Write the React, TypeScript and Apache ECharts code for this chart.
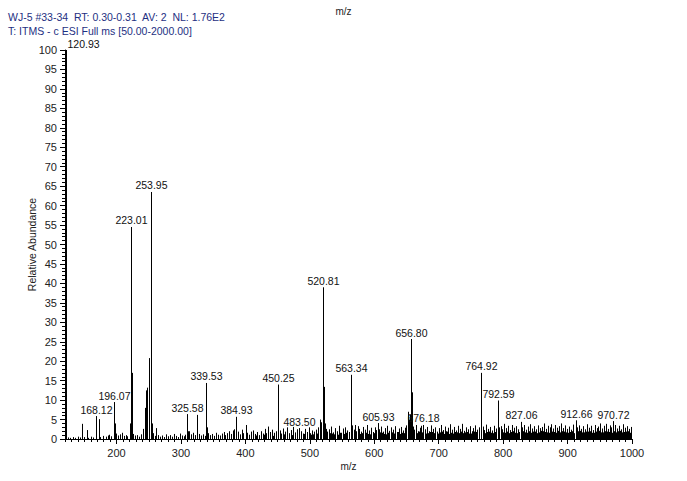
import React, { useEffect, useRef } from "react";
import * as echarts from "echarts";

// ---- data ----
const headerLine1 = "WJ-5 #33-34  RT: 0.30-0.31  AV: 2  NL: 1.76E2";
const headerLine2 = "T: ITMS - c ESI Full ms [50.00-2000.00]";
const X_MIN = 120;
const X_MAX = 1000;
const xMajorTicks = [200, 300, 400, 500, 600, 700, 800, 900, 1000];

// labelled peaks: [m/z, relative abundance]
const labelledPeaks: [number, number][] = [
  [120.93, 100], [168.12, 5.9], [196.07, 9.5], [223.01, 54.5], [253.95, 63.5],
  [325.58, 6.2], [339.53, 14.4], [384.93, 5.7], [450.25, 14.0], [483.5, 2.8],
  [520.81, 39.0], [563.34, 16.5], [605.93, 4.1], [656.8, 25.7], [676.18, 3.6],
  [764.92, 17.0], [792.59, 9.9], [827.06, 4.4], [912.66, 4.8], [970.72, 4.6],
];

// unlabelled larger peaks
const otherPeaks: [number, number][] = [
  [147, 3.9], [153.5, 2.3], [172, 5.1], [197.07, 4.0], [221, 4.0], [224.01, 17.0],
  [244.5, 8.0], [246.3, 12.5], [247.4, 13.2], [249.6, 20.8], [250.6, 6.0], [255, 4.0],
  [310, 6.4], [311.2, 2.0], [340.5, 3.0], [385.9, 2.6], [401, 3.6], [451.25, 5.0],
  [519.7, 5.2], [521.81, 13.4], [522.8, 4.0], [564.3, 3.4], [652, 7.0], [654, 5.0],
  [655.8, 6.2], [657.8, 12.0], [658.8, 4.0], [765.92, 7.0], [793.6, 3.0],
];

// baseline noise
const noiseLow: [number, number][] = [
  [125, 0.4], [128, 0.3], [132, 0.5], [136, 0.3], [140, 0.6], [143, 0.4], [150, 0.5],
  [156, 0.3], [160, 0.6], [163, 0.4], [175, 0.5], [179, 0.8], [183, 0.6], [186, 0.9],
  [189, 1.1], [192, 0.7], [199, 1.4], [202, 0.9], [205, 1.2], [208, 1.6], [211, 0.8],
  [214, 1.0], [217, 0.7], [226, 1.3], [229, 0.9], [232, 1.0], [235, 0.6], [238, 1.2],
  [241, 2.6], [257, 1.5], [259, 0.8],
  [262, 2.8], [265, 1.0], [268, 0.6], [271, 0.9], [274, 0.5], [277, 1.2], [280, 0.7],
  [283, 1.0], [286, 0.6], [289, 1.3], [292, 0.8], [295, 0.5], [298, 1.4], [301, 0.9],
  [304, 0.7], [306, 1.1], [312, 2.0], [315, 1.2], [318, 1.6], [321, 1.0], [328, 1.3],
  [331, 0.9], [334, 1.2], [337, 0.8], [342, 1.5], [345, 1.0], [348, 1.3], [351, 0.8],
  [354, 1.6], [357, 1.1], [360, 0.9], [363, 1.4], [366, 1.8], [369, 1.0], [372, 1.5],
  [375, 2.0], [378, 1.3], [381, 2.2], [383, 2.5], [386, 2.8], [388, 1.9], [391, 1.2],
  [394, 2.4], [397, 1.5], [403, 1.6], [406, 1.1], [409, 1.9],
];

const noiseMid: [number, number][] = [
  [412, 2.2], [415, 1.3], [418, 1.8], [421, 1.0], [424, 2.0], [427, 1.4], [430, 2.6],
  [432, 1.5], [435, 3.2], [438, 1.8], [441, 2.4], [444, 1.6], [447, 2.0], [453, 2.2],
  [456, 1.4], [459, 2.7], [462, 1.9], [465, 3.0], [468, 1.5], [471, 2.3], [474, 3.1],
  [477, 1.7], [480, 2.5], [486, 2.0], [489, 1.4], [492, 2.6], [495, 1.8], [498, 3.0],
  [501, 1.5], [504, 2.2], [507, 1.9], [510, 2.4], [513, 3.0], [516, 5.0], [518, 4.3],
  [523, 3.5], [525, 2.6], [527, 1.9],
  [530, 2.5], [533, 3.2], [536, 1.7], [539, 2.8], [542, 2.0], [545, 3.4], [548, 1.6],
  [551, 2.7], [554, 3.0], [557, 2.2], [560, 1.8], [566, 3.5], [568, 2.4], [570, 3.6],
  [572, 2.0], [575, 3.3], [577, 2.6], [580, 1.9], [583, 3.1], [586, 2.4], [589, 3.6],
  [592, 2.2], [595, 2.9], [598, 1.8], [601, 3.0], [603, 2.3], [608, 2.5], [611, 3.2],
  [614, 1.9], [617, 2.8], [620, 3.4], [623, 2.1], [626, 3.0], [629, 2.4], [632, 3.3],
  [635, 1.8], [638, 2.7], [641, 3.1], [644, 2.2], [647, 2.9], [650, 3.5],
];

const noiseHigh: [number, number][] = [
  [660, 3.2], [662, 2.4], [665, 3.6], [668, 2.0], [671, 2.9], [673, 3.4], [679, 2.5],
  [682, 3.1], [685, 2.0], [688, 3.5], [691, 2.6], [694, 3.0], [697, 1.9], [700, 2.8],
  [703, 3.6], [706, 2.3], [709, 3.2], [712, 2.0], [715, 2.9], [718, 3.8], [721, 2.4],
  [724, 3.1], [727, 2.2], [730, 3.4], [733, 2.6], [736, 3.9], [739, 2.1], [742, 3.0],
  [745, 2.5], [748, 3.3], [751, 2.0], [754, 2.8], [757, 3.5], [760, 2.4], [762, 3.0],
  [768, 3.2], [771, 2.3], [774, 3.7], [777, 2.6], [780, 3.1], [783, 2.2], [786, 3.4],
  [789, 2.7], [796, 3.3], [799, 2.5], [802, 3.9], [805, 2.8], [808, 3.4], [811, 2.3],
  [814, 3.6], [817, 2.9], [820, 3.3], [823, 2.5], [830, 3.0], [833, 3.6], [836, 2.4],
  [839, 3.2], [842, 3.8], [845, 2.7], [848, 3.3], [851, 2.5], [854, 3.5], [857, 2.8],
  [860, 3.1], [863, 4.0], [866, 2.6], [869, 3.4], [872, 3.0], [875, 3.8], [878, 2.7],
  [881, 3.6], [884, 2.9], [887, 3.3], [890, 4.0], [893, 2.8], [896, 3.5], [899, 2.6],
  [902, 3.2], [905, 2.4], [908, 3.7], [915, 3.0], [918, 3.5], [921, 2.6], [924, 3.3],
  [927, 2.5], [930, 3.8], [933, 2.9], [936, 3.4], [939, 2.3], [942, 3.6], [945, 2.8],
  [948, 3.2], [951, 4.0], [954, 2.7], [957, 3.4], [960, 3.9], [963, 2.6], [966, 3.5],
  [968, 3.0], [974, 3.6], [977, 2.7], [980, 3.4], [983, 2.5], [986, 3.8], [989, 2.9],
  [992, 3.3], [995, 2.6], [998, 3.1],
];

// lower in-between noise that fills the baseline band
const noiseFloor: [number, number][] = [
  [416.5, 0.9], [428.5, 1.1], [442.5, 0.8], [460.5, 1.2], [472.5, 1.0], [490.5, 1.3],
  [502.5, 1.1], [511.5, 1.4], [531.5, 1.5], [537.5, 1.2], [546.5, 1.6], [552.5, 1.3],
  [561.5, 1.4], [571.5, 1.7], [578.5, 1.3], [587.5, 1.6], [593.5, 1.2], [599.5, 1.5],
  [609.5, 1.7], [615.5, 1.3], [621.5, 1.6], [630.5, 1.4], [636.5, 1.8], [645.5, 1.5],
  [661.5, 1.6], [669.5, 1.9], [683.5, 1.5], [689.5, 1.8], [698.5, 1.4], [704.5, 1.9],
  [710.5, 1.6], [716.5, 1.3], [725.5, 1.8], [731.5, 1.5], [740.5, 1.7], [749.5, 1.4],
  [755.5, 1.9], [769.5, 1.6], [775.5, 1.8], [784.5, 1.5], [797.5, 1.9], [803.5, 1.6],
  [812.5, 1.8], [821.5, 1.5], [831.5, 2.0], [837.5, 1.6], [846.5, 1.9], [852.5, 1.5],
  [861.5, 2.0], [867.5, 1.7], [876.5, 1.9], [882.5, 1.6], [891.5, 2.0], [897.5, 1.7],
  [903.5, 1.8], [909.5, 1.5], [916.5, 2.0], [925.5, 1.7], [931.5, 1.9], [940.5, 1.6],
  [946.5, 2.0], [955.5, 1.7], [961.5, 1.9], [969.5, 1.6], [978.5, 2.0], [984.5, 1.7],
  [990.5, 1.9], [996.5, 1.6],
];

const noiseFloor2: [number, number][] = [
  [505.5, 1.2], [534.5, 1.4], [543.5, 1.1], [555.5, 1.6], [581.5, 1.5], [590.5, 1.3],
  [605.5, 1.4], [612.5, 1.6], [618.5, 1.2], [627.5, 1.7], [639.5, 1.3], [642.5, 1.6],
  [648.5, 2.0], [666.5, 1.5], [674.5, 1.7], [680.5, 1.4], [686.5, 1.8], [692.5, 1.5],
  [701.5, 1.7], [707.5, 1.3], [713.5, 1.9], [719.5, 1.6], [722.5, 1.4], [728.5, 1.7],
  [734.5, 1.9], [737.5, 1.5], [743.5, 1.8], [746.5, 1.4], [752.5, 1.6], [758.5, 1.8],
  [772.5, 1.5], [778.5, 1.9], [781.5, 1.6], [787.5, 1.8], [800.5, 1.7], [806.5, 1.9],
  [809.5, 1.5], [815.5, 2.0], [818.5, 1.6], [824.5, 1.8], [834.5, 1.7], [840.5, 2.0],
  [843.5, 1.6], [849.5, 1.9], [855.5, 1.7], [858.5, 2.1], [864.5, 1.8], [870.5, 1.6],
  [873.5, 2.0], [879.5, 1.8], [885.5, 2.1], [888.5, 1.7], [894.5, 1.9], [900.5, 1.6],
  [906.5, 2.0], [913.5, 1.8], [919.5, 2.1], [922.5, 1.7], [928.5, 1.9], [934.5, 2.0],
  [937.5, 1.6], [943.5, 1.9], [949.5, 2.1], [952.5, 1.7], [958.5, 2.0], [964.5, 1.8],
  [972.5, 2.0], [975.5, 1.7], [981.5, 2.1], [987.5, 1.8], [993.5, 2.0], [999.0, 1.7],
];

const labelDx: Record<string, number> = { "325.58": -10 };

export default function App() {
  const ref = useRef<HTMLDivElement>(null);
  useEffect(() => {
    if (!ref.current) return;
    const chart = echarts.init(ref.current, null, { renderer: "svg" });
    const font = "Liberation Sans, Arial, sans-serif";
    const minorTicks: number[] = [];
    for (let v = X_MIN; v <= X_MAX; v += 10) minorTicks.push(v);

    const stickSeries = (data: [number, number][]) => ({
      type: "custom",
      xAxisIndex: 0,
      yAxisIndex: 0,
      silent: true,
      clip: true,
      data,
      renderItem: (_p: any, api: any) => {
        const x = api.value(0);
        const y = api.value(1);
        const p0 = api.coord([x, 0]);
        const p1 = api.coord([x, y]);
        const px = Math.round(p0[0]) + 0.5;
        return {
          type: "line",
          shape: { x1: px, y1: p0[1], x2: px, y2: p1[1] },
          style: { stroke: "#000", lineWidth: 1 },
        };
      },
    });

    const allSticks = [
      ...noiseFloor, ...noiseFloor2, ...noiseLow, ...noiseMid, ...noiseHigh, ...otherPeaks,
    ];

    chart.setOption({
      animation: false,
      backgroundColor: "#fff",
      textStyle: { fontFamily: font },
      title: {
        text: "m/z",
        left: "center",
        top: 1,
        textStyle: { fontSize: 10, fontWeight: "normal", color: "#222", fontFamily: font },
      },
      graphic: [
        {
          type: "text",
          left: 8,
          top: 11,
          style: { text: headerLine1, fontSize: 10.5, fill: "#1e2f82", fontFamily: font },
        },
        {
          type: "text",
          left: 8,
          top: 25,
          style: { text: headerLine2, fontSize: 10.5, fill: "#1e2f82", fontFamily: font },
        },
      ],
      grid: { left: 65, top: 50, right: 55, bottom: 42, containLabel: false, outerBoundsMode: "none" },
      xAxis: [
        {
          type: "value",
          min: X_MIN,
          max: X_MAX,
          position: "bottom",
          name: "m/z",
          nameLocation: "middle",
          nameGap: 22,
          nameMoveOverlap: false,
          nameTextStyle: { fontSize: 10, color: "#222", fontFamily: font },
          axisLine: { show: true, lineStyle: { color: "#000", width: 1 } },
          axisTick: { show: true, customValues: xMajorTicks, length: 5, lineStyle: { color: "#000" } },
          axisLabel: {
            customValues: xMajorTicks,
            fontSize: 11,
            color: "#222",
            margin: 8,
            fontFamily: font,
            formatter: (v: number) => String(v),
          },
          splitLine: { show: false },
        },
        {
          type: "value",
          min: X_MIN,
          max: X_MAX,
          position: "bottom",
          axisLine: { show: false },
          axisTick: { show: true, customValues: minorTicks, length: 3, lineStyle: { color: "#000" } },
          axisLabel: { show: false },
          splitLine: { show: false },
        },
      ],
      yAxis: {
        type: "value",
        min: 0,
        max: 100,
        interval: 5,
        name: "Relative Abundance",
        nameLocation: "middle",
        nameGap: 28,
        nameMoveOverlap: false,
        nameTextStyle: { fontSize: 10.5, color: "#222", fontFamily: font },
        axisLine: { show: true, lineStyle: { color: "#000", width: 1 } },
        axisTick: { show: true, length: 5, lineStyle: { color: "#000" } },
        minorTick: { show: true, splitNumber: 5, length: 3, lineStyle: { color: "#000" } },
        axisLabel: { fontSize: 11, color: "#222", margin: 8, fontFamily: font },
        splitLine: { show: false },
      },
      series: [
        stickSeries(allSticks),
        {
          type: "custom",
          xAxisIndex: 0,
          yAxisIndex: 0,
          silent: true,
          data: labelledPeaks,
          renderItem: (p: any, api: any) => {
            const x = api.value(0);
            const y = api.value(1);
            const p0 = api.coord([x, 0]);
            const p1 = api.coord([x, y]);
            const px = Math.round(p0[0]) + 0.5;
            const txt = x.toFixed(2);
            const first = p.dataIndex === 0;
            const dx = labelDx[txt] || 0;
            return {
              type: "group",
              children: [
                {
                  type: "line",
                  shape: { x1: px, y1: p0[1], x2: px, y2: p1[1] },
                  style: { stroke: "#000", lineWidth: 1 },
                },
                {
                  type: "text",
                  x: first ? px + 1 : px + dx,
                  y: p1[1] - 1,
                  style: {
                    text: txt,
                    fontSize: 10.5,
                    fontFamily: font,
                    fill: "#111",
                    align: first ? "left" : "center",
                    verticalAlign: "bottom",
                  },
                },
              ],
            };
          },
        },
      ],
    });
    return () => chart.dispose();
  }, []);
  return (
    <div
      ref={ref}
      style={{ position: "fixed", left: 0, top: 0, width: 687, height: 481, background: "#fff" }}
    />
  );
}
